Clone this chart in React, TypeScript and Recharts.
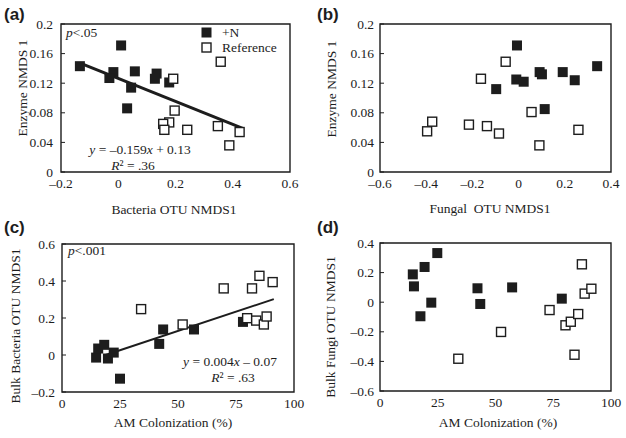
import React from "react";
import { ScatterChart, Scatter, XAxis, YAxis, ReferenceArea, Legend } from "recharts";

const INK = "#1d1d1d";
const SERIF = "Liberation Serif";
const SANS = "Liberation Sans";

// (a) enzyme NMDS vs bacteria OTU NMDS
const aNitrogen = [
    { x: -0.134, y: 0.143 }, { x: 0.01, y: 0.171 }, { x: -0.017, y: 0.135 }, { x: -0.031, y: 0.127 },
    { x: 0.045, y: 0.114 }, { x: 0.058, y: 0.136 }, { x: 0.031, y: 0.086 }, { x: 0.134, y: 0.133 },
    { x: 0.128, y: 0.126 }, { x: 0.178, y: 0.121 },
];
const aReference = [
    { x: 0.358, y: 0.149 }, { x: 0.192, y: 0.126 }, { x: 0.197, y: 0.083 }, { x: 0.178, y: 0.067 },
    { x: 0.157, y: 0.065 }, { x: 0.161, y: 0.057 }, { x: 0.241, y: 0.057 }, { x: 0.348, y: 0.062 },
    { x: 0.424, y: 0.054 }, { x: 0.388, y: 0.036 },
];
const aFit = [{ x: -0.133, y: 0.147 }, { x: 0.435, y: 0.059 }];

// (b) enzyme NMDS vs fungal OTU NMDS
const bNitrogen = [
    { x: -0.007, y: 0.171 }, { x: -0.01, y: 0.125 }, { x: 0.022, y: 0.122 }, { x: -0.097, y: 0.112 },
    { x: 0.091, y: 0.135 }, { x: 0.101, y: 0.132 }, { x: 0.191, y: 0.135 }, { x: 0.243, y: 0.124 },
    { x: 0.34, y: 0.143 }, { x: 0.113, y: 0.085 },
];
const bReference = [
    { x: -0.056, y: 0.149 }, { x: -0.163, y: 0.126 }, { x: 0.056, y: 0.081 }, { x: -0.374, y: 0.068 },
    { x: -0.396, y: 0.055 }, { x: -0.215, y: 0.064 }, { x: -0.137, y: 0.062 }, { x: -0.085, y: 0.052 },
    { x: 0.09, y: 0.036 }, { x: 0.259, y: 0.057 },
];

// (c) bulk bacteria OTU NMDS vs AM colonization
const cNitrogen = [
    { x: 14.7, y: -0.014 }, { x: 15.6, y: 0.035 }, { x: 18.2, y: 0.055 }, { x: 19.8, y: -0.019 },
    { x: 22.3, y: 0.013 }, { x: 25.0, y: -0.128 }, { x: 41.9, y: 0.06 }, { x: 43.6, y: 0.138 },
    { x: 56.9, y: 0.138 }, { x: 78.0, y: 0.179 },
];
const cReference = [
    { x: 34.1, y: 0.248 }, { x: 52.0, y: 0.165 }, { x: 69.7, y: 0.36 }, { x: 81.9, y: 0.36 },
    { x: 85.1, y: 0.428 }, { x: 90.8, y: 0.394 }, { x: 79.8, y: 0.199 }, { x: 83.7, y: 0.186 },
    { x: 87.0, y: 0.165 }, { x: 88.2, y: 0.208 },
];
const cFit = [{ x: 18.8, y: 0.0 }, { x: 91.3, y: 0.302 }];

// (d) bulk fungi OTU NMDS vs AM colonization
const dNitrogen = [
    { x: 14.2, y: 0.188 }, { x: 14.7, y: 0.107 }, { x: 19.3, y: 0.238 }, { x: 24.8, y: 0.332 },
    { x: 22.2, y: -0.003 }, { x: 17.5, y: -0.095 }, { x: 42.2, y: 0.094 }, { x: 43.4, y: -0.012 },
    { x: 57.2, y: 0.1 }, { x: 78.7, y: 0.024 },
];
const dReference = [
    { x: 33.9, y: -0.382 }, { x: 52.4, y: -0.201 }, { x: 73.4, y: -0.053 }, { x: 80.3, y: -0.156 },
    { x: 82.6, y: -0.132 }, { x: 85.8, y: -0.08 }, { x: 84.2, y: -0.355 }, { x: 87.4, y: 0.256 },
    { x: 88.6, y: 0.058 }, { x: 91.5, y: 0.091 },
];

const enzymeTicks = [0, 0.04, 0.08, 0.12, 0.16, 0.2];
const bactTicks = [-0.2, 0, 0.2, 0.4, 0.6];
const fungTicks = [-0.6, -0.4, -0.2, 0, 0.2, 0.4];
const amTicks = [0, 25, 50, 75, 100];
const bulkBactTicks = [-0.2, 0, 0.2, 0.4, 0.6];
const bulkFungTicks = [-0.6, -0.4, -0.2, 0, 0.2, 0.4];

const legendRows = [
    { label: "+N", filled: true },
    { label: "Reference", filled: false },
];

const fmt = (v: number) => String(v).replace("-", "\u2013");

// custom ticks so the serif font is used for sure
const XTick = (p: any) => (
    <text x={p.x} y={p.y} dy="0.72em" textAnchor="middle" fontFamily={SERIF} fontSize={13.5} fill={INK}>
        {fmt(p.payload.value)}
    </text>
);
const YTick = (p: any) => (
    <text x={p.x} y={p.y} dy="0.34em" textAnchor="end" fontFamily={SERIF} fontSize={13.5} fill={INK}>
        {fmt(p.payload.value)}
    </text>
);

const FilledSq = (p: any) => <rect x={p.cx - 5} y={p.cy - 5} width={10} height={10} fill={INK} />;
const OpenSq = (p: any) => (
    <rect x={p.cx - 4.5} y={p.cy - 4.5} width={9} height={9} fill="#fff" stroke={INK} strokeWidth={1.4} />
);
const NoDot = () => <g />;

function LegendBox() {
    return (
        <div style={{ fontFamily: SERIF, fontSize: 13.5, color: INK }}>
            {legendRows.map(r => (
                <div key={r.label} style={{ display: "flex", alignItems: "center", height: 15 }}>
                    <svg width={11} height={11} style={{ display: "block" }}>
                        {r.filled
                            ? <rect x={0.5} y={0.5} width={10} height={10} fill={INK} />
                            : <rect x={1} y={1} width={9} height={9} fill="#fff" stroke={INK} strokeWidth={1.4} />}
                    </svg>
                    <span style={{ marginLeft: 10, lineHeight: "15px" }}>{r.label}</span>
                </div>
            ))}
        </div>
    );
}

function Panel(props: any) {
    const {
        letter, letterY, nData, refData, fit, fitWidth, xDomain, xTicks, yDomain, yTicks, yGap,
        xTitle, xTitleX, xTitleY, yTitle, yTitleX, yTitleY, yAxisW, right, top, xAxisH, legend, children,
    } = props;
    return (
        <ScatterChart width={313} height={219} margin={{ top, right, bottom: 0, left: 0 }}>
            <XAxis
                type="number" dataKey="x" domain={xDomain} ticks={xTicks} allowDataOverflow interval={0}
                axisLine={false} tickLine={false} tickSize={0} tickMargin={6} height={xAxisH}
                tick={<XTick />}
            />
            <YAxis
                type="number" dataKey="y" domain={yDomain} ticks={yTicks} allowDataOverflow interval={0}
                axisLine={false} tickLine={{ stroke: INK }} tickSize={-4} tickMargin={4 + yGap} width={yAxisW}
                tick={<YTick />}
            />
            <ReferenceArea
                x1={xDomain[0]} x2={xDomain[1]} y1={yDomain[0]} y2={yDomain[1]}
                fill="none" stroke={INK} strokeWidth={1.4}
            />
            {fit && (
                <Scatter
                    data={fit} line={{ stroke: INK, strokeWidth: fitWidth }} shape={NoDot}
                    legendType="none" isAnimationActive={false}
                />
            )}
            <Scatter name="+N" data={nData} shape={FilledSq} isAnimationActive={false} />
            <Scatter name="Reference" data={refData} shape={OpenSq} isAnimationActive={false} />
            {legend && (
                <Legend
                    layout="vertical" align="center" verticalAlign="middle"
                    wrapperStyle={{ left: 201, top: 25, width: 100 }}
                    content={() => <LegendBox />}
                />
            )}
            <text x={4} y={letterY} fontFamily={SANS} fontWeight="bold" fontSize={17} fill={INK}>{letter}</text>
            <text x={xTitleX} y={xTitleY} textAnchor="middle" fontFamily={SERIF} fontSize={13.5} fill={INK}>
                {xTitle}
            </text>
            <text
                x={0} y={0} transform={`translate(${yTitleX},${yTitleY}) rotate(-90)`}
                textAnchor="middle" dominantBaseline="central" fontFamily={SERIF} fontSize={13.5} fill={INK}
            >
                {yTitle}
            </text>
            {children}
        </ScatterChart>
    );
}

const Note = (p: any) => (
    <text x={p.x} y={p.y} textAnchor={p.anchor || "start"} fontFamily={SERIF} fontSize={13.5} fill={INK}>
        {p.children}
    </text>
);
const I = (p: any) => <tspan fontStyle="italic">{p.children}</tspan>;

export default function App() {
    return (
        <div style={{ position: "absolute", left: 0, top: 0, width: 626, height: 438, background: "#fff" }}>
            <div style={{ position: "absolute", left: 0, top: 0 }}>
                <Panel
                    letter="(a)" letterY={20} nData={aNitrogen} refData={aReference} fit={aFit} fitWidth={3}
                    xDomain={[-0.2, 0.6]} xTicks={bactTicks} yDomain={[0, 0.2]} yTicks={enzymeTicks} yGap={8}
                    xTitle="Bacteria OTU NMDS1" xTitleX={174} xTitleY={214}
                    yTitle="Enzyme NMDS 1" yTitleX={22} yTitleY={88}
                    yAxisW={61} right={23} top={24} xAxisH={47} legend
                >
                    <Note x={66} y={37}><I>p</I>&lt;.05</Note>
                    <Note x={140} y={154} anchor="middle"><I>y</I> = {"\u2013"}0.159<I>x</I> + 0.13</Note>
                    <Note x={133} y={170} anchor="middle"><I>R</I>² = .36</Note>
                </Panel>
            </div>
            <div style={{ position: "absolute", left: 313, top: 0 }}>
                <Panel
                    letter="(b)" letterY={20} nData={bNitrogen} refData={bReference}
                    xDomain={[-0.6, 0.4]} xTicks={fungTicks} yDomain={[0, 0.2]} yTicks={enzymeTicks} yGap={6}
                    xTitle={"Fungal\u00a0 OTU NMDS1"} xTitleX={177} xTitleY={213}
                    yTitle="Enzyme NMDS 1" yTitleX={18} yTitleY={89}
                    yAxisW={67} right={15} top={24} xAxisH={47}
                />
            </div>
            <div style={{ position: "absolute", left: 0, top: 219 }}>
                <Panel
                    letter="(c)" letterY={14} nData={cNitrogen} refData={cReference} fit={cFit} fitWidth={2}
                    xDomain={[0, 100]} xTicks={amTicks} yDomain={[-0.2, 0.6]} yTicks={bulkBactTicks} yGap={7}
                    xTitle="AM Colonization (%)" xTitleX={173} xTitleY={208}
                    yTitle="Bulk Bacteria OTU NMDS1" yTitleX={15} yTitleY={107}
                    yAxisW={62} right={19} top={25} xAxisH={46}
                >
                    <Note x={68} y={36}><I>p</I>&lt;.001</Note>
                    <Note x={230} y={147} anchor="middle"><I>y</I> = 0.004<I>x</I> {"\u2013"} 0.07</Note>
                    <Note x={233} y={163} anchor="middle"><I>R</I>² = .63</Note>
                </Panel>
            </div>
            <div style={{ position: "absolute", left: 313, top: 219 }}>
                <Panel
                    letter="(d)" letterY={14} nData={dNitrogen} refData={dReference}
                    xDomain={[0, 100]} xTicks={amTicks} yDomain={[-0.6, 0.4]} yTicks={bulkFungTicks} yGap={6}
                    xTitle="AM Colonization (%)" xTitleX={185} xTitleY={208}
                    yTitle="Bulk Fungi OTU NMDS1" yTitleX={17} yTitleY={108}
                    yAxisW={67} right={15} top={24} xAxisH={47}
                />
            </div>
        </div>
    );
}
